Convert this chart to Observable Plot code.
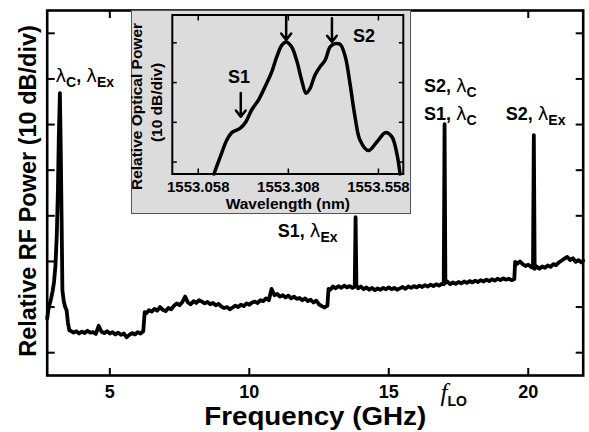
<!DOCTYPE html>
<html><head><meta charset="utf-8">
<script src="https://cdn.jsdelivr.net/npm/d3@7"></script>
<script src="https://cdn.jsdelivr.net/npm/@observablehq/plot@0.6"></script>
<style>
body{margin:0;background:#fff;}
#wrap{position:relative;width:589px;height:432px;overflow:hidden;font-family:"Liberation Sans",Arial,sans-serif;}
#main{position:absolute;left:0;top:0;}
#inset{position:absolute;left:131px;top:10px;width:280px;height:204px;background:#dcdcdc;border:1.5px solid #555;box-sizing:border-box;}
#inset svg{display:block;}
</style></head><body><div id="wrap"><div id="main"></div><div id="inset"></div></div>
<script>
// ---- main RF spectrum (frequency in GHz, relative power in dB; 10 dB per division) ----
const rfFreq = [2.755,2.80,2.85,2.90,2.95,3.00,3.05,3.10,3.14,3.17,3.21,3.24,3.27,3.30,3.35,3.40,3.45,3.50,3.55,
3.6,3.7,3.8,3.9,4.0,4.1,4.2,4.3,4.4,4.5,4.6,4.7,4.8,4.9,5.0,5.1,5.2,5.3,5.4,5.5,5.6,5.7,5.8,5.9,6.0,6.1,6.2,6.25,
6.3,6.4,6.5,6.6,6.7,6.8,6.9,7.0,7.1,7.2,7.3,7.4,7.5,7.6,7.7,7.8,7.9,8.0,8.1,8.2,8.3,8.4,8.5,8.6,8.7,8.8,8.9,9.0,
9.1,9.2,9.3,9.4,9.5,9.6,9.7,9.8,9.9,10.0,10.1,10.2,10.3,10.4,10.5,10.6,10.7,10.8,10.85,10.9,11.0,11.1,11.2,11.3,
11.4,11.5,11.6,11.7,11.8,11.9,12.0,12.1,12.2,12.3,12.4,12.5,12.6,12.7,12.8,12.84,12.9,13.0,13.1,13.2,13.3,13.4,
13.5,13.6,13.7,13.78,13.81,13.84,13.9,14.0,14.1,14.2,14.3,14.4,14.5,14.6,14.7,14.8,14.9,15.0,15.1,15.2,15.3,15.4,
15.5,15.6,15.7,15.8,15.9,16.0,16.1,16.2,16.3,16.4,16.5,16.6,16.7,16.8,16.9,16.97,17.0,17.03,17.1,17.2,17.3,17.4,
17.5,17.6,17.7,17.8,17.9,18.0,18.1,18.2,18.3,18.4,18.5,18.6,18.7,18.8,18.9,19.0,19.1,19.2,19.3,19.4,19.5,19.53,
19.6,19.7,19.8,19.9,20.0,20.1,20.17,20.2,20.23,20.3,20.4,20.5,20.6,20.7,20.8,20.9,21.0,21.1,21.2,21.3,21.4,21.5,
21.6,21.7,21.8,21.9,21.97];
const rfPower = [12.5,14.5,15.8,17.0,18.5,20.5,24.0,31.0,41.0,52.0,61.9,50.0,35.0,18.7,16.2,15.0,14.3,11.5,9.9,
9.8,9.4,9.7,9.2,9.6,9.3,9.8,9.4,9.5,9.1,10.9,9.6,9.3,9.7,9.2,9.5,9.0,9.4,8.9,9.2,8.4,8.9,9.3,9.0,9.5,9.2,9.7,13.9,
13.6,14.3,14.0,14.6,14.2,15.0,14.4,14.1,14.8,14.5,15.3,15.8,15.4,16.1,17.3,16.0,15.6,16.3,15.9,16.5,16.2,15.8,16.1,15.6,15.9,15.4,15.7,15.1,
14.8,15.0,14.5,14.9,15.3,15.0,15.5,15.2,15.8,15.5,16.0,16.2,15.9,16.5,16.3,16.9,16.5,19.0,18.2,17.6,17.9,17.3,17.6,17.1,
17.5,16.9,17.3,16.8,17.0,16.5,16.9,16.3,16.6,16.0,16.4,15.6,15.2,14.9,15.3,19.0,18.8,19.5,19.1,19.6,19.2,19.7,
19.3,19.6,19.2,19.5,34.7,19.8,19.1,19.5,18.9,19.3,18.8,19.2,18.7,19.1,18.8,19.2,18.9,19.3,18.9,19.2,18.8,19.1,
19.4,19.0,19.5,19.2,19.6,19.3,19.7,19.4,19.8,19.5,19.9,19.6,20.0,19.7,20.1,20.0,55.1,20.3,20.6,20.0,20.4,20.1,
20.5,20.2,20.6,20.3,20.7,20.4,20.8,20.5,20.9,20.6,21.0,20.7,21.1,20.8,21.2,20.9,21.3,21.0,21.2,20.9,21.1,24.9,
24.5,25.0,24.4,24.0,24.3,23.8,23.6,52.7,23.4,23.9,23.4,23.9,23.6,24.1,23.8,24.4,24.2,24.8,25.2,25.6,26.0,25.3,
25.7,24.9,25.3,24.8,25.2];
const rfTicksX = [5, 10, 15, 20];
const rfTicksY = [5, 15, 25, 35, 45, 55, 65, 75];

// annotations on the RF spectrum
const annoText = ["λ{sub:C}, λ{sub:Ex}", "S2, λ{sub:C}", "S1, λ{sub:C}", "S2, λ{sub:Ex}", "S1, λ{sub:Ex}"];
const annoFreq = [3.05, 16.26, 16.26, 19.19, 11.02];
const annoPower = [64.4, 62.2, 56.1, 56.0, 30.3];
const fLoFreq = 17.0;
const fLoText = "{i:f}{sub:LO}";

// ---- inset optical spectrum (wavelength nm, relative power dB) ----
const optWl = [1553.1016,1553.119,1553.137,1553.151,1553.174,1553.190,1553.206,1553.225,1553.243,1553.262,1553.276,
1553.290,1553.302,1553.317,1553.331,1553.345,1553.357,1553.368,1553.382,1553.396,1553.410,1553.424,1553.438,1553.452,
1553.466,1553.479,1553.493,1553.507,1553.530,1553.554,1553.577,1553.595,1553.609,1553.618];
const optPower = [0,4.3,8.5,10.4,11.5,13.1,16.1,18.6,21.9,25.7,29.5,
32.4,33.2,32.0,28.6,23.6,20.3,21.5,24.9,27.0,28.6,32.0,32.8,32.6,
29.5,22.8,14.4,8.5,5.9,8.1,10.4,9.4,5.2,0];
const optTicksX = [1553.058, 1553.308, 1553.558];
const optTicksY = [3, 13, 23, 33];
const arrowWl = [1553.302, 1553.429, 1553.176];
const arrowFrom = [39.9, 39.2, 20.4];
const arrowTo = [33.7, 33.2, 14.4];
const optLabels = ["S1", "S2"];
const optLabelWl = [1553.171, 1553.518];
const optLabelPower = [22.8, 33.2];

const FONT = "Liberation Sans, Arial, Helvetica, sans-serif";
const rfData = rfFreq.map((f, i) => ({f, p: rfPower[i]}));
const annoData = annoText.map((t, i) => ({t, f: annoFreq[i], p: annoPower[i]}));
const noLabel = () => "";

const main = Plot.plot({
  width: 589, height: 432,
  marginLeft: 46.7, marginRight: 6.3, marginTop: 10, marginBottom: 57,
  style: {background: "white", fontFamily: FONT, fontWeight: "bold", color: "black", overflow: "visible"},
  x: {domain: [2.755, 21.97], label: null},
  y: {domain: [0, 80], label: null},
  marks: [
    Plot.line(rfData, {x: "f", y: "p", stroke: "black", strokeWidth: 3.8, strokeLinejoin: "round"}),
    Plot.axisX(rfTicksX, {anchor: "bottom", tickSize: -7, strokeWidth: 2, tickFormat: noLabel}),
    Plot.axisX(rfTicksX, {anchor: "top", tickSize: -7, strokeWidth: 2, tickFormat: noLabel}),
    Plot.axisY(rfTicksY, {anchor: "left", tickSize: -8, strokeWidth: 2, tickFormat: noLabel}),
    Plot.axisY(rfTicksY, {anchor: "right", tickSize: -8, strokeWidth: 2, tickFormat: noLabel}),
    Plot.axisX(rfTicksX, {anchor: "bottom", tickSize: 0, tickPadding: 10, fontSize: 18, fontWeight: "bold"}),
    Plot.frame({stroke: "black", strokeWidth: 2.6}),
    Plot.text(annoData, {x: "f", y: "p", text: "t", textAnchor: "start", lineAnchor: "bottom", fontSize: 18, fontWeight: "bold"}),
    Plot.text([{f: fLoFreq, t: fLoText}], {x: "f", text: "t", frameAnchor: "bottom", dy: 25, dx: -4, textAnchor: "start", lineAnchor: "bottom", fontSize: 25}),
    Plot.text(["Frequency (GHz)"], {text: d => d, frameAnchor: "bottom", textAnchor: "middle", lineAnchor: "top", dy: 32, fontSize: 25, fontWeight: "bold"}),
    Plot.text(["Relative RF Power (10 dB/div)"], {text: d => d, frameAnchor: "left", textAnchor: "middle", rotate: -90, dx: -19, dy: -2, fontSize: 23.5, fontWeight: "bold"})
  ]
});

const optData = optWl.map((w, i) => ({w, p: optPower[i]}));
const arrowData = arrowWl.map((w, i) => ({w, a: arrowFrom[i], b: arrowTo[i]}));
const optLabelData = optLabels.map((t, i) => ({t, w: optLabelWl[i], p: optLabelPower[i]}));

const inset = Plot.plot({
  width: 277, height: 201,
  marginLeft: 39.8, marginRight: 6.2, marginTop: 3.5, marginBottom: 38.5,
  style: {background: "transparent", fontFamily: FONT, fontWeight: "bold", color: "black", overflow: "visible"},
  x: {domain: [1552.986, 1553.627], label: null},
  y: {domain: [0, 40], label: null},
  marks: [
    Plot.line(optData, {x: "w", y: "p", curve: "catmull-rom", stroke: "black", strokeWidth: 3.5, strokeLinejoin: "round"}),
    Plot.axisX(optTicksX, {anchor: "bottom", tickSize: -5, strokeWidth: 1.5, tickFormat: noLabel}),
    Plot.axisX(optTicksX, {anchor: "top", tickSize: -5, strokeWidth: 1.5, tickFormat: noLabel}),
    Plot.axisY(optTicksY, {anchor: "left", tickSize: -5, strokeWidth: 1.5, tickFormat: noLabel}),
    Plot.axisY(optTicksY, {anchor: "right", tickSize: -5, strokeWidth: 1.5, tickFormat: noLabel}),
    Plot.axisX(optTicksX, {anchor: "bottom", tickSize: 0, tickPadding: 7, fontSize: 15, fontWeight: "bold", tickFormat: d => d.toFixed(3)}),
    Plot.frame({stroke: "black", strokeWidth: 2}),
    Plot.arrow(arrowData, {x: "w", y1: "a", y2: "b", stroke: "black", strokeWidth: 2.5, headLength: 11, headAngle: 75}),
    Plot.text(optLabelData, {x: "w", y: "p", text: "t", lineAnchor: "bottom", fontSize: 18, fontWeight: "bold"}),
    Plot.text(["Wavelength (nm)"], {text: d => d, frameAnchor: "bottom", textAnchor: "middle", lineAnchor: "top", dy: 24, fontSize: 15.5, fontWeight: "bold"}),
    Plot.text(["Relative Optical Power"], {text: d => d, frameAnchor: "left", textAnchor: "middle", rotate: -90, dx: -35, dy: 12, fontSize: 15.5, fontWeight: "bold"}),
    Plot.text(["(10 dB/div)"], {text: d => d, frameAnchor: "left", textAnchor: "middle", rotate: -90, dx: -15, dy: 8, fontSize: 15.5, fontWeight: "bold"})
  ]
});

// rich text: λ in a plain face, {sub:..} subscripts, {i:..} italic serif
function richify(svg) {
  d3.select(svg).selectAll("text").each(function() {
    const t = this.textContent;
    if (t === "Frequency (GHz)") {
      d3.select(this).attr("textLength", 222).attr("lengthAdjust", "spacingAndGlyphs");
      return;
    }
    if (!/[{λ]/.test(t)) return;
    const el = d3.select(this);
    el.text(null);
    const re = /\{(\w+):([^}]*)\}|λ|[^{λ]+/g;
    let m, shift = 0;
    while ((m = re.exec(t))) {
      const ts = el.append("tspan");
      let target = 0;
      if (m[1] === "sub") { ts.text(m[2]).style("font-size", "14px").style("font-weight", "bold"); target = 5; }
      else if (m[1] === "i") { ts.text(m[2]).style("font-style", "italic").style("font-family", "Liberation Serif, serif").style("font-weight", "normal"); }
      else if (m[0] === "λ") { ts.text("λ").style("font-weight", "normal").style("font-family", "DejaVu Sans, sans-serif"); }
      else ts.text(m[0]);
      if (target !== shift) { ts.attr("dy", target - shift); shift = target; }
    }
  });
}
richify(main);
document.getElementById("main").appendChild(main);
document.getElementById("inset").appendChild(inset);
</script>
</body></html>
